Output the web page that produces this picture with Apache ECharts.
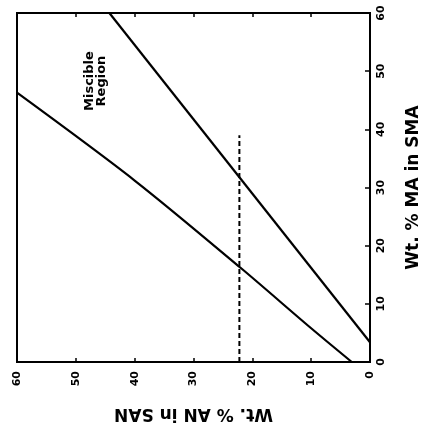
<!DOCTYPE html>
<html><head><meta charset="utf-8">
<script src="https://cdn.jsdelivr.net/npm/echarts@6/dist/echarts.min.js"></script>
<style>html,body{margin:0;padding:0;background:#fff}#c{width:422px;height:428px}</style>
</head><body><div id="c"></div>
<script>
var xTicks = [0, 10, 20, 30, 40, 50, 60];
var upperLine = [[0, 3.4], [44.3, 60]];
var lowerLine = [[3.1, 0], [10, 5.8], [22, 16.2], [40, 31.2], [60, 46.3]];
var dashedLine = [[22.2, 0], [22.2, 39]];
var regionLabel = 'Miscible\nRegion';
var regionLabelPos = [46.6, 48.3];
var xName = 'Wt. % AN in SAN';
var yName = 'Wt. % MA in SMA';

var chart = echarts.init(document.getElementById('c'), null, {renderer: 'canvas'});
var font = 'DejaVu Sans';
var option = {
  animation: false,
  grid: {left: 17, right: 52, top: 13, bottom: 66, show: true, borderColor: '#000', borderWidth: 2,
    containLabel: false, outerBoundsMode: 'none'},
  xAxis: [{
    type: 'value', min: 0, max: 60, interval: 10, inverse: true, position: 'bottom',
    axisLine: {lineStyle: {color: '#000', width: 2}},
    axisTick: {inside: true, length: 4, lineStyle: {color: '#000', width: 1.5}},
    splitLine: {show: false},
    axisLabel: {rotate: 90, color: '#000', fontFamily: font, fontWeight: 'bold', fontSize: 11, margin: 9,
      formatter: function (v) { return xTicks.indexOf(v) >= 0 ? String(v) : ''; }},
    name: xName, nameLocation: 'middle', nameGap: 43, nameRotate: 180,
    nameTextStyle: {color: '#000', fontFamily: font, fontWeight: 'bold', fontSize: 17}
  }, {
    type: 'value', min: 0, max: 60, interval: 10, inverse: true, position: 'top',
    axisLine: {lineStyle: {color: '#000', width: 2}},
    axisTick: {inside: true, length: 4, lineStyle: {color: '#000', width: 1.5}},
    axisLabel: {show: false}, splitLine: {show: false}
  }],
  yAxis: [{
    type: 'value', min: 0, max: 60, interval: 10, position: 'right',
    axisLine: {lineStyle: {color: '#000', width: 2}},
    axisTick: {inside: true, length: 5, lineStyle: {color: '#000', width: 1.5}},
    splitLine: {show: false},
    axisLabel: {rotate: 90, color: '#000', fontFamily: font, fontWeight: 'bold', fontSize: 11, margin: 6},
    name: yName, nameLocation: 'middle', nameGap: 35, nameRotate: 90,
    nameTextStyle: {color: '#000', fontFamily: font, fontWeight: 'bold', fontSize: 17}
  }],
  series: [
    {type: 'line', data: upperLine, showSymbol: false, lineStyle: {color: '#000', width: 2.2}},
    {type: 'line', data: lowerLine, showSymbol: false, smooth: 0.3, lineStyle: {color: '#000', width: 2.2}},
    {type: 'line', data: dashedLine, showSymbol: false, lineStyle: {color: '#000', width: 2, type: [5, 3]}}
  ]
};
chart.setOption(option);
var p = chart.convertToPixel({gridIndex: 0}, regionLabelPos);
chart.setOption({
  graphic: [{
    type: 'text', x: p[0], y: p[1], rotation: Math.PI / 2,
    style: {text: regionLabel, fill: '#000', font: 'bold 13px "DejaVu Sans"', lineHeight: 12,
      align: 'center', verticalAlign: 'middle'}
  }]
});
</script></body></html>
